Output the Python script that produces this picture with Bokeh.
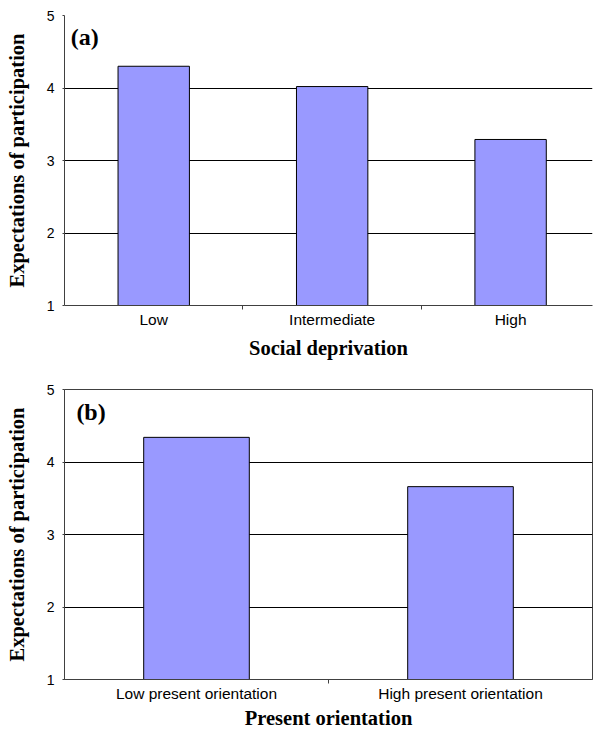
from bokeh.plotting import figure
from bokeh.layouts import column
from bokeh.models import Range1d, FixedTicker, Label
from bokeh.embed import file_html
from bokeh.resources import INLINE

# ---- data ----
cats_a = ["Low", "Intermediate", "High"]
vals_a = [4.30, 4.02, 3.29]
cats_b = ["Low present orientation", "High present orientation"]
vals_b = [4.34, 3.66]
y_ticks = [1, 2, 3, 4, 5]
y_title = "Expectations of participation"
x_title_a = "Social deprivation"
x_title_b = "Present orientation"

BAR = "#9999FF"
AXC = "#404040"
SANS = "Liberation Sans"
SERIF = "Liberation Serif"


def style(p, cats, xtitle, label_std, title_std):
    p.y_range = Range1d(1, 5)
    p.xgrid.visible = False
    p.ygrid.grid_line_color = "black"
    p.ygrid.grid_line_width = 1
    n = len(cats)
    xa = p.xaxis[0]
    xa.ticker = FixedTicker(ticks=list(range(n)), minor_ticks=[i + 0.5 for i in range(n - 1)])
    xa.major_label_overrides = {i: c for i, c in enumerate(cats)}
    xa.major_tick_line_color = None
    xa.major_tick_out = 0
    xa.major_tick_in = 0
    xa.minor_tick_line_color = AXC
    xa.minor_tick_out = 4
    xa.minor_tick_in = 0
    xa.axis_line_color = AXC
    xa.major_label_text_font = SANS
    xa.major_label_text_font_size = "15.5px"
    xa.major_label_text_color = "black"
    xa.major_label_standoff = label_std
    xa.axis_label = xtitle
    xa.axis_label_text_font = SERIF
    xa.axis_label_text_font_style = "bold"
    xa.axis_label_text_font_size = "20.5px"
    xa.axis_label_text_color = "black"
    xa.axis_label_standoff = title_std

    ya = p.yaxis[0]
    ya.ticker = FixedTicker(ticks=y_ticks)
    ya.minor_tick_line_color = None
    ya.major_tick_out = 2
    ya.major_tick_in = 0
    ya.major_tick_line_color = AXC
    ya.axis_line_color = AXC
    ya.major_label_text_font = SANS
    ya.major_label_text_font_size = "14px"
    ya.major_label_text_color = "black"
    ya.major_label_standoff = 8
    ya.axis_label = y_title
    ya.axis_label_text_font = SERIF
    ya.axis_label_text_font_style = "bold"
    ya.axis_label_text_font_size = "20.5px"
    ya.axis_label_text_color = "black"
    ya.axis_label_standoff = 16


# ---- panel (a) ----
pa = figure(width=601, height=361, output_backend="svg", toolbar_location=None,
            x_range=Range1d(-0.5, 2.459), min_border_left=64, min_border_right=0,
            min_border_top=15, min_border_bottom=56)
pa.outline_line_color = None
style(pa, cats_a, x_title_a, 1, 6)
pa.ygrid.ticker = FixedTicker(ticks=[2, 3, 4, 5])
pa.vbar(x=list(range(len(cats_a))), top=vals_a, bottom=1, width=0.4,
        fill_color=BAR, line_color="black", line_width=1)
pa.add_layout(Label(x=-0.465, y=4.705, text="(a)", text_font=SERIF, text_font_style="bold",
                    text_font_size="24px", text_baseline="alphabetic", text_color="black"))

# ---- panel (b) ----
pb = figure(width=601, height=370, output_backend="svg", toolbar_location=None,
            x_range=Range1d(-0.5, 1.5), min_border_left=64, min_border_right=9,
            min_border_top=28, min_border_bottom=52)
pb.outline_line_color = AXC
style(pb, cats_b, x_title_b, 1, 2)
pb.ygrid.ticker = FixedTicker(ticks=[2, 3, 4])
pb.vbar(x=list(range(len(cats_b))), top=vals_b, bottom=1, width=0.4,
        fill_color=BAR, line_color="black", line_width=1)
pb.add_layout(Label(x=-0.455, y=4.695, text="(b)", text_font=SERIF, text_font_style="bold",
                    text_font_size="24px", text_baseline="alphabetic", text_color="black"))

layout = column(pa, pb, spacing=0)
open("out.html", "w").write(file_html(layout, INLINE))
